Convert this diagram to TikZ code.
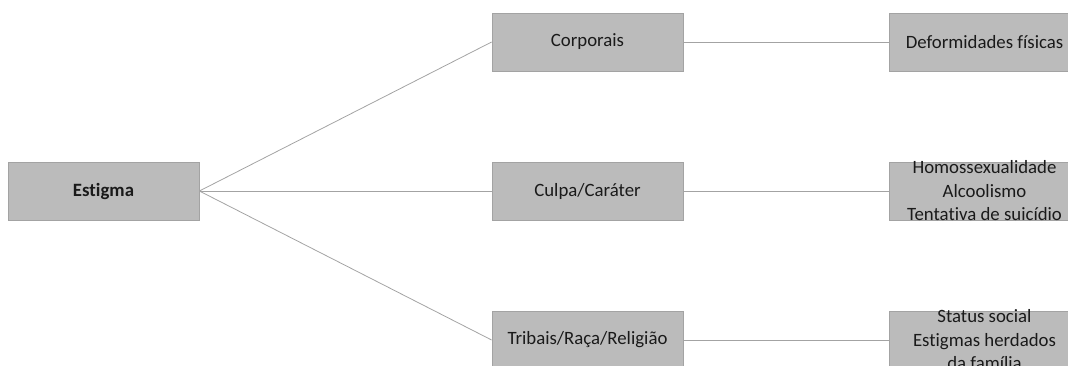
\documentclass[tikz,border=0pt]{standalone}
\usepackage{fontspec}
\setmainfont[Ligatures=NoCommon]{Carlito}
\definecolor{boxgray}{HTML}{BBBBBB}
\definecolor{edgegray}{HTML}{A3A3A3}
\definecolor{inkgray}{HTML}{1A1A1A}
\begin{document}
\begin{tikzpicture}[x=1pt,y=-1pt,font=\fontsize{18.8}{23.5}\selectfont,text=inkgray,
  cell/.style={rectangle,fill=boxgray,draw=edgegray,line width=0.8pt,minimum width=191pt,minimum height=58pt,inner sep=0pt},
  link/.style={draw=edgegray,line width=0.8pt}]
		\useasboundingbox (0,0) rectangle (1068,365);
		\path
		+(103.5,191)  node[cell]  (E) {\textbf{Estigma}}
		+(587.5,42)   node[cell]  (C1) {Corporais}
		+(587.5,191)  node[cell]  (C2) {Culpa/Caráter}
		+(587.5,340)  node[cell]  (C3) {Tribais/Raça/Religião}
		+(984.5,42)   node[cell]  (R1) {Deformidades físicas}
		+(984.5,191)  node[cell]  (R2) {}
		+(984.5,340)  node[cell]  (R3) {}
		;
		\node[align=center] (T2) at (R2.center) {Homossexualidade\\Alcoolismo\\Tentativa de suicídio};
		\node[align=center] (T3) at (R3.center) {Status social\\Estigmas herdados\\da família};
		\draw[link] (E.east)--(C1.west);
		\draw[link] (E.east)--(C2.west);
		\draw[link] (E.east)--(C3.west);
		\draw[link] (C1)--(R1);
		\draw[link] (C2)--(R2);
		\draw[link] (C3)--(R3);
		\end{tikzpicture}
\end{document}
